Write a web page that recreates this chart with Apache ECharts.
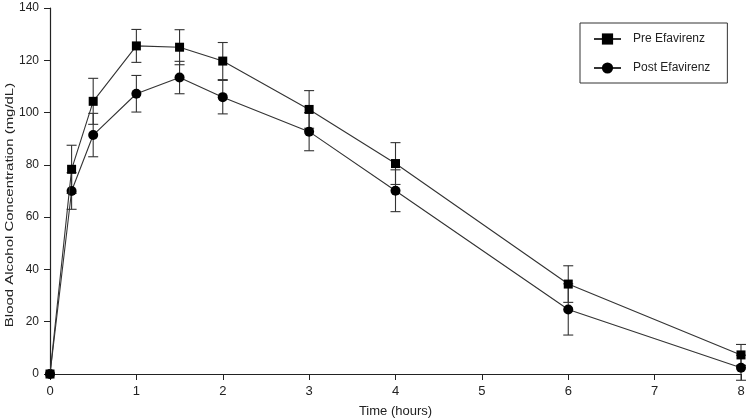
<!DOCTYPE html>
<html>
<head>
<meta charset="utf-8">
<script src="https://cdn.jsdelivr.net/npm/echarts@6/dist/echarts.min.js"></script>
<style>html,body{margin:0;padding:0;background:#fff}#c{width:750px;height:420px}</style>
</head>
<body>
<div id="c"></div>
<script>
var time = [0, 0.25, 0.5, 1, 1.5, 2, 3, 4, 6, 8];
var pre = [0, 78.3, 104.3, 125.5, 125, 119.7, 101.2, 80.5, 34.4, 7.3];
var preErr = [0, 9.2, 8.8, 6.3, 6.7, 7.1, 7.2, 8, 7, 4];
var post = [0, 70, 91.4, 107.2, 113.4, 105.9, 92.7, 70.1, 24.7, 2.4];
var postErr = [0, 7, 8.3, 7, 6.2, 6.4, 7.3, 8, 9.8, 4.8];
var seriesNames = ['Pre Efavirenz', 'Post Efavirenz'];
var xTicks = [0, 1, 2, 3, 4, 5, 6, 7, 8];
var xTitle = 'Time (hours)';
var yTitle = 'Blood Alcohol Concentration (mg/dL)';

var ink = '#222';
var font = 'Liberation Sans, Arial, sans-serif';

function pts(v) { return time.map(function (t, i) { return [t, v[i]]; }); }
function errData(v, e) { return time.map(function (t, i) { return [t, v[i] - e[i], v[i] + e[i]]; }); }

function errRender(params, api) {
  if (api.value(2) - api.value(1) <= 0) return null;
  var lo = api.coord([api.value(0), api.value(1)]);
  var hi = api.coord([api.value(0), api.value(2)]);
  var w = 5;
  var st = { stroke: '#333', lineWidth: 1.1 };
  return {
    type: 'group',
    children: [
      { type: 'line', shape: { x1: lo[0], y1: lo[1], x2: hi[0], y2: hi[1] }, style: st },
      { type: 'line', shape: { x1: lo[0] - w, y1: lo[1], x2: lo[0] + w, y2: lo[1] }, style: st },
      { type: 'line', shape: { x1: hi[0] - w, y1: hi[1], x2: hi[0] + w, y2: hi[1] }, style: st }
    ]
  };
}

var chart = echarts.init(document.getElementById('c'), null, { renderer: 'canvas' });
chart.setOption({
  animation: false,
  backgroundColor: '#fff',
  textStyle: { fontFamily: font, color: ink },
  grid: { left: 50, right: 9, top: 8, bottom: 46, containLabel: false, outerBoundsMode: 'none' },
  graphic: [{
    type: 'text', x: 10, y: 205, rotation: Math.PI / 2, scaleX: 1.3,
    style: { text: yTitle, fontFamily: font, fontSize: 11.5, fill: ink, align: 'center', verticalAlign: 'middle' },
    silent: true
  }],
  legend: {
    data: seriesNames,
    orient: 'vertical',
    left: 580, top: 23,
    padding: [10, 17, 9, 13],
    itemGap: 17,
    itemWidth: 27, itemHeight: 14,
    borderColor: '#333', borderWidth: 1,
    textStyle: { fontFamily: font, fontSize: 12, color: ink, padding: [0, 0, 0, 7] }
  },
  xAxis: {
    type: 'value', min: 0, max: 8, interval: 1,
    name: xTitle, nameLocation: 'middle', nameGap: 31,
    nameTextStyle: { fontFamily: font, fontSize: 13, color: ink },
    axisLine: { show: true, onZero: false, lineStyle: { color: ink, width: 1.2 } },
    axisTick: { show: true, inside: false, length: 6, lineStyle: { color: ink } },
    axisLabel: { fontFamily: font, fontSize: 13, color: ink, margin: 11,
      formatter: function (v) { return xTicks.indexOf(v) >= 0 ? String(v) : ''; } },
    splitLine: { show: false }
  },
  yAxis: {
    type: 'value', min: 0, max: 140, interval: 20,
    axisLine: { show: true, lineStyle: { color: ink, width: 1.2 } },
    axisTick: { show: true, length: 6, lineStyle: { color: ink } },
    axisLabel: { fontFamily: font, fontSize: 12, color: ink, margin: 11 },
    splitLine: { show: false }
  },
  series: [
    { type: 'custom', name: 'errPost', renderItem: errRender, data: errData(post, postErr), clip: false, z: 1, silent: true },
    { type: 'custom', name: 'errPre', renderItem: errRender, data: errData(pre, preErr), clip: false, z: 1, silent: true },
    { type: 'line', name: seriesNames[1], data: pts(post), symbol: 'circle', symbolSize: 10,
      lineStyle: { color: '#333', width: 1.1 }, itemStyle: { color: '#000' }, z: 3 },
    { type: 'line', name: seriesNames[0], data: pts(pre), symbol: 'rect', symbolSize: 9,
      lineStyle: { color: '#333', width: 1.1 }, itemStyle: { color: '#000' }, z: 4 }
  ]
});
</script>
</body>
</html>
